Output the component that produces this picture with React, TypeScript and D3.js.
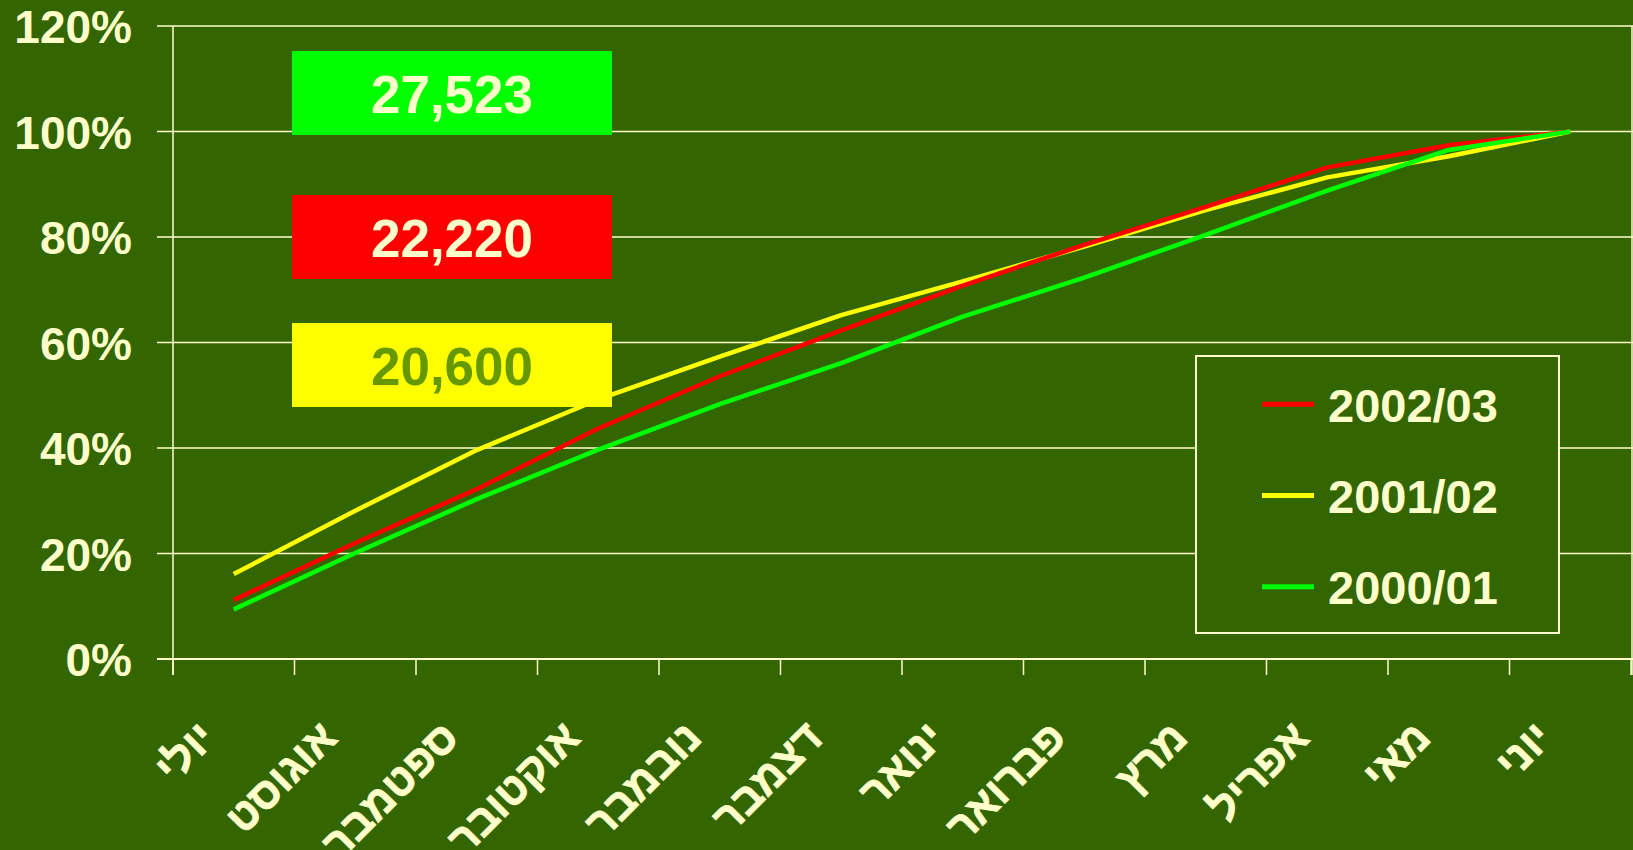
import React from "react";
import * as d3 from "d3";

const months = ["יולי", "אוגוסט", "ספטמבר", "אוקטובר", "נובמבר", "דצמבר", "ינואר", "פברואר", "מרץ", "אפריל", "מאי", "יוני"];
const yTicks = [0, 0.2, 0.4, 0.6, 0.8, 1.0, 1.2];
const series0203 = [0.112, 0.220, 0.322, 0.437, 0.536, 0.623, 0.708, 0.785, 0.857, 0.932, 0.974, 1.0];
const series0102 = [0.161, 0.281, 0.396, 0.492, 0.573, 0.652, 0.716, 0.782, 0.851, 0.913, 0.953, 1.0];
const series0001 = [0.094, 0.201, 0.303, 0.397, 0.483, 0.561, 0.649, 0.723, 0.804, 0.888, 0.965, 1.0];
const seriesNames = ["2002/03", "2001/02", "2000/01"];
const seriesColors = ["#FF0000", "#FFFF00", "#00FF00"];
const totals = ["27,523", "22,220", "20,600"];
const totalFills = ["#00FF00", "#FF0000", "#FFFF00"];
const totalTextColors = ["#FFFFCC", "#FFFFCC", "#669900"];

const W = 1633;
const H = 850;
const BG = "#336600";
const CREAM = "#FFFFCC";
const FONT = "'Liberation Sans', Arial, sans-serif";

export default function App() {
  const x = d3.scaleBand<string>().domain(months).range([173, 1631]).paddingInner(0).paddingOuter(0);
  const y = d3.scaleLinear().domain([0, 1.2]).range([659, 26]);
  const cx = (m: string) => (x(m) as number) + x.bandwidth() / 2;
  const line = d3
    .line<number>()
    .x((_, i) => cx(months[i]))
    .y((d) => y(d));
  const allSeries = [series0203, series0102, series0001];
  const drawOrder = [1, 0, 2];
  const tickXs = months.map((m) => x(m) as number).concat([x.range()[1]]);

  return (
    <svg
      width={W}
      height={H}
      style={{ position: "absolute", left: 0, top: 0, display: "block" }}
      fontFamily={FONT}
    >
      <rect x={0} y={0} width={W} height={H} fill={BG} />
      {/* gridlines */}
      {yTicks.map((t) => (
        <line key={t} x1={157} x2={1633} y1={y(t)} y2={y(t)} stroke={CREAM} strokeWidth={t === 0 ? 2 : 1.5} />
      ))}
      {/* axes */}
      <line x1={173} x2={173} y1={y(1.2)} y2={675} stroke={CREAM} strokeWidth={1.5} />
      <line x1={1632} x2={1632} y1={y(1.2)} y2={675} stroke={CREAM} strokeWidth={1.5} />
      {tickXs.map((tx, i) => (
        <line key={i} x1={tx} x2={tx} y1={y(0)} y2={675} stroke={CREAM} strokeWidth={1.5} />
      ))}
      {yTicks.map((t) => (
        <text
          key={t}
          x={132}
          y={y(t) + 17}
          textAnchor="end"
          fill={CREAM}
          fontWeight="bold"
          fontSize={46}
        >
          {`${Math.round(t * 100)}%`}
        </text>
      ))}
      {/* x labels */}
      {months.map((m) => {
        const ax = cx(m) - 16;
        const ay = 740;
        return (
          <text
            key={m}
            x={ax}
            y={ay}
            textAnchor="end"
            fill={CREAM}
            stroke={CREAM}
            strokeWidth={0.8}
            fontWeight="bold"
            fontSize={43}
            transform={`rotate(-45 ${ax} ${ay})`}
          >
            {m}
          </text>
        );
      })}
      {/* total boxes */}
      {totals.map((t, i) => {
        const tops = [51, 195, 323];
        return (
          <g key={t}>
            <rect x={292} y={tops[i]} width={320} height={84} fill={totalFills[i]} />
            <text
              x={452}
              y={tops[i] + 62}
              textAnchor="middle"
              fill={totalTextColors[i]}
              fontWeight="bold"
              fontSize={53}
            >
              {t}
            </text>
          </g>
        );
      })}
      {/* series lines */}
      {drawOrder.map((si) => (
        <path
          key={si}
          d={line(allSeries[si]) || ""}
          fill="none"
          stroke={seriesColors[si]}
          strokeWidth={4.5}
          strokeLinejoin="round"
        />
      ))}
      {/* legend */}
      <rect x={1196} y={356} width={363} height={277} fill={BG} stroke={CREAM} strokeWidth={2} />
      {seriesNames.map((n, i) => {
        const ly = 404.3 + i * 91.2;
        return (
          <g key={n}>
            <line x1={1262} x2={1314} y1={ly} y2={ly} stroke={seriesColors[i]} strokeWidth={5} />
            <text x={1328} y={ly + 17.5} fill={CREAM} fontWeight="bold" fontSize={47}>
              {n}
            </text>
          </g>
        );
      })}
    </svg>
  );
}
